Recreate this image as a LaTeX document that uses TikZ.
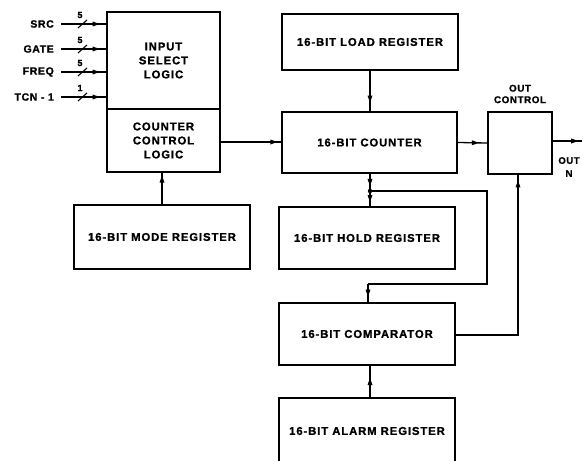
\documentclass[tikz,border=0pt]{standalone}
\usepackage{fontspec}
\setmainfont{Liberation Sans}[BoldFeatures={FakeBold=1.2}]
\newfontfamily\lblfont{Liberation Sans}[LetterSpace=8,BoldFeatures={FakeBold=1.2}]
\newfontfamily\smlfont{Liberation Sans}[LetterSpace=6,BoldFeatures={FakeBold=1.2}]
\usetikzlibrary{arrows.meta,decorations.markings}
\tikzset{
  x=1pt,y=-1pt,
  box/.style={draw,line width=1.9pt,inner sep=0pt,font=\lblfont\bfseries\fontsize{11.3}{14}\selectfont,align=center},
  conn/.style={line width=1.3pt},
  midarrow/.style={conn,decoration={markings,mark=at position #1 with {\fill (3.5,0) -- (-3.5,2.5) -- (-3.5,-2.5) -- cycle;}},postaction={decorate}},
  smalltxt/.style={font=\smlfont\bfseries\fontsize{10.5}{12}\selectfont,inner sep=0pt},
  tinytxt/.style={font=\bfseries\fontsize{9}{10}\selectfont,inner sep=0pt},
}
\begin{document}
\begin{tikzpicture}
\useasboundingbox (0,0) rectangle (583,460);
% boxes
\node[box,minimum width=113pt,minimum height=97pt] (isl) at (163.5,60.5) {INPUT\\SELECT\\LOGIC};
\node[box,minimum width=113pt,minimum height=63pt] (ccl) at (163.5,140.5) {COUNTER\\CONTROL\\LOGIC};
\node[box,minimum width=176pt,minimum height=64pt] (mode) at (162,237) {16-BIT MODE REGISTER};
\node[box,minimum width=176pt,minimum height=56pt] (load) at (370,42) {16-BIT LOAD REGISTER};
\node[box,minimum width=175pt,minimum height=61pt] (cnt) at (369.5,142.5) {16-BIT COUNTER};
\node[box,minimum width=64pt,minimum height=62pt] (outc) at (520,143) {};
\node[box,minimum width=176pt,minimum height=62pt] (hold) at (367,238) {16-BIT HOLD REGISTER};
\node[box,minimum width=176pt,minimum height=62pt] (cmp) at (367,334) {16-BIT COMPARATOR};
\node[box,minimum width=176pt,minimum height=66pt] (alarm) at (367,431) {16-BIT ALARM REGISTER};
% labels
\node[smalltxt,align=center,font=\smlfont\bfseries\fontsize{9.8}{11.5}\selectfont] (outlbl) at (520,94) {OUT\\CONTROL};
\node[smalltxt,align=center,font=\smlfont\bfseries\fontsize{9.5}{13}\selectfont] (outn) at (569,167) {OUT\\N};
% inputs
\foreach \name/\lab/\num/\yy in {src/SRC/5/24, gate/GATE/5/49, freq/FREQ/5/72, tcn/TCN - 1/1/97}{
  \node[smalltxt,anchor=east] (\name) at (54,\yy) {\lab};
  \coordinate (\name e) at (isl.west |- 0,\yy);
  \draw[midarrow=0.78] (61,\yy) -- (\name e);
  \draw[conn,line width=1.1pt] (78,\yy+4) -- (87,\yy-4);
  \node[tinytxt] (\name n) at (80,\yy-9) {\num};
}
% connectors
\draw[midarrow=0.88] (ccl.east |- 0,142) -- (cnt.west |- 0,142);
\draw[midarrow=0.8] (mode.north) -- (ccl.south -| mode.north);
\draw[midarrow=0.7] (load.south) -- (load.south |- cnt.north);
\draw[midarrow=0.6] (cnt.east) -- (outc.west);
\coordinate (oend) at (582,141);
\draw[midarrow=0.75] (outc.east |- oend) -- (oend);
\coordinate (jn) at (370,191);
\draw[midarrow=0.5] (cnt.south -| jn) -- (jn);
\draw[midarrow=0.5] (jn) -- (hold.north -| jn);
\fill (jn) circle (2.2pt);
\draw[conn] (jn) -- (487,191) -- (487,284) -- (368,284);
\draw[midarrow=0.5] (368,284) -- (cmp.north -| 368,0);
\draw[conn] (cmp.east |- 0,335) -- (518,335) -- (518,190);
\draw[midarrow=0.4] (518,190) -- (outc.south -| 518,0);
\draw[midarrow=0.5] (alarm.north -| 370,0) -- (cmp.south -| 370,0);
\end{tikzpicture}
\end{document}
